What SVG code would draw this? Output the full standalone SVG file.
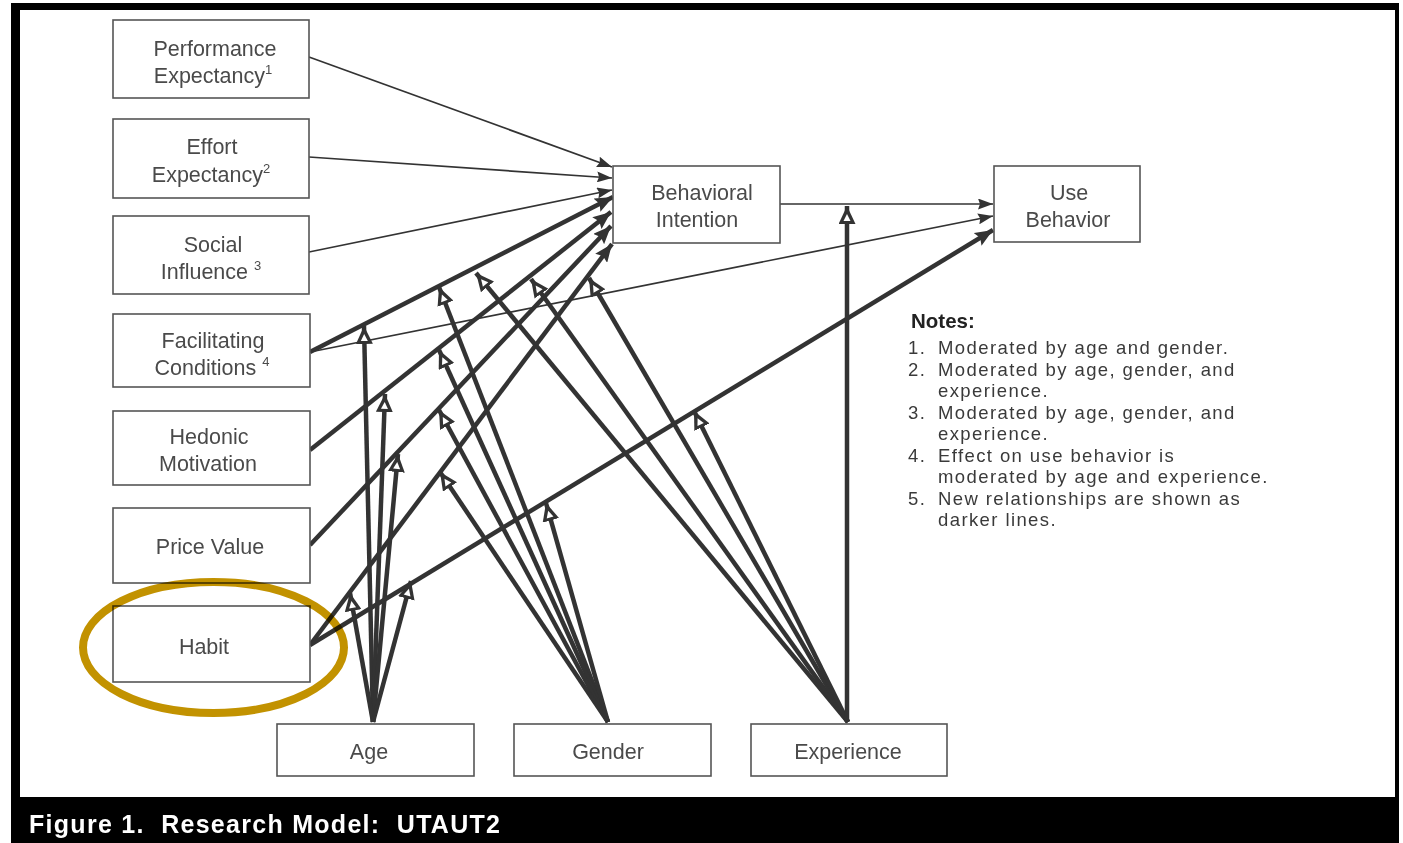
<svg xmlns="http://www.w3.org/2000/svg" width="1403" height="843" viewBox="0 0 1403 843">
<defs>
<style>
.box{fill:#fff;stroke:#555;stroke-width:1.6}
.lbl{font-family:"Liberation Sans",Arial,sans-serif;font-size:21.5px;fill:#4a4a4a;text-anchor:middle}
.thin{stroke:#333;stroke-width:1.7;fill:none}
.thick{stroke:#333;stroke-width:4.5;fill:none}
.pth{marker-end:url(#aThin)}
.ptk{marker-end:url(#aThick)}
.mod{stroke:#333;stroke-width:4.5;fill:none;marker-end:url(#aMod)}
.note{font-family:"Liberation Sans",Arial,sans-serif;font-size:18.5px;fill:#3a3a3a;letter-spacing:1.4px}
</style>
<marker id="aThin" markerUnits="userSpaceOnUse" viewBox="0 0 15 11" refX="15" refY="5.5" markerWidth="15" markerHeight="11" orient="auto"><path d="M0,0 L15,5.5 L0,11 L2,5.5 z" fill="#333"/></marker>
<marker id="aThick" markerUnits="userSpaceOnUse" viewBox="0 0 18 15" refX="18" refY="7.5" markerWidth="18" markerHeight="15" orient="auto"><path d="M0,0 L18,7.5 L0,15 L3,7.5 z" fill="#333"/></marker>
<marker id="aMod" markerUnits="userSpaceOnUse" viewBox="0 0 18 17" refX="18" refY="8.5" markerWidth="18" markerHeight="17" orient="auto"><path d="M0,0 L18,8.5 L0,17 z" fill="#333"/><path d="M3,5 L10,8.5 L3,12 z" fill="#fff"/></marker>
</defs>

<rect x="11" y="3" width="1388" height="840" fill="#000"/>
<rect x="20" y="10" width="1375" height="787" fill="#fff"/>
<text x="29" y="833" xml:space="preserve" font-family="Liberation Sans, Arial, sans-serif" font-size="25" font-weight="bold" fill="#fff" textLength="471" lengthAdjust="spacing">Figure 1.  Research Model:  UTAUT2</text>

<g id="connectors">
<path class="thin pth" d="M309,57 L612,167"/>
<path class="thin pth" d="M309,157 L612,178"/>
<path class="thin pth" d="M309,252 L612,190"/>
<path class="thick ptk" d="M310,352 L613,197"/>
<path class="thick ptk" d="M310,450 L611,212"/>
<path class="thick ptk" d="M310,545 L611,226"/>
<path class="thick ptk" d="M310,645 L612,244"/>
<path class="thin pth" d="M780,204 L993,204"/>
<path class="thin pth" d="M310,352 L993,216"/>
<path class="thick ptk" d="M310,645 L993,230"/>
<path class="mod" d="M373,722 L364,326"/>
<path class="mod" d="M373,722 L385,394"/>
<path class="mod" d="M373,722 L398,454"/>
<path class="mod" d="M373,722 L350,593"/>
<path class="mod" d="M373,722 L411,581"/>
<path class="mod" d="M608,722 L439,287"/>
<path class="mod" d="M608,722 L439,350"/>
<path class="mod" d="M608,722 L439,410"/>
<path class="mod" d="M608,722 L440,472"/>
<path class="mod" d="M608,722 L546,503"/>
<path class="mod" d="M848,722 L476,273"/>
<path class="mod" d="M848,722 L531,279"/>
<path class="mod" d="M848,722 L589,278"/>
<path class="mod" d="M848,722 L694,411"/>
<path class="mod" d="M847,722 L847,206"/>
</g>

<g id="pe"><rect class="box" x="113" y="20" width="196" height="78"/><text class="lbl" x="215" y="56">Performance</text><text class="lbl" x="213" y="83">Expectancy<tspan font-size="13" dy="-9">1</tspan></text></g>
<g id="ee"><rect class="box" x="113" y="119" width="196" height="79"/><text class="lbl" x="212" y="154">Effort</text><text class="lbl" x="211" y="182">Expectancy<tspan font-size="13" dy="-9">2</tspan></text></g>
<g id="si"><rect class="box" x="113" y="216" width="196" height="78"/><text class="lbl" x="213" y="252">Social</text><text class="lbl" x="211" y="279">Influence <tspan font-size="13" dy="-9">3</tspan></text></g>
<g id="fc"><rect class="box" x="113" y="314" width="197" height="73"/><text class="lbl" x="213" y="348">Facilitating</text><text class="lbl" x="212" y="375">Conditions <tspan font-size="13" dy="-9">4</tspan></text></g>
<g id="hm"><rect class="box" x="113" y="411" width="197" height="74"/><text class="lbl" x="209" y="444">Hedonic</text><text class="lbl" x="208" y="471">Motivation</text></g>
<g id="pv"><rect class="box" x="113" y="508" width="197" height="75"/><text class="lbl" x="210" y="554">Price Value</text></g>
<g id="habit"><rect class="box" x="113" y="606" width="197" height="76"/><text class="lbl" x="204" y="654">Habit</text></g>
<g id="bi"><rect class="box" x="613" y="166" width="167" height="77"/><text class="lbl" x="702" y="200">Behavioral</text><text class="lbl" x="697" y="227">Intention</text></g>
<g id="ub"><rect class="box" x="994" y="166" width="146" height="76"/><text class="lbl" x="1069" y="200">Use</text><text class="lbl" x="1068" y="227">Behavior</text></g>
<g id="age"><rect class="box" x="277" y="724" width="197" height="52"/><text class="lbl" x="369" y="759">Age</text></g>
<g id="gender"><rect class="box" x="514" y="724" width="197" height="52"/><text class="lbl" x="608" y="759">Gender</text></g>
<g id="experience"><rect class="box" x="751" y="724" width="196" height="52"/><text class="lbl" x="848" y="759">Experience</text></g>

<ellipse cx="213.5" cy="647.5" rx="130.5" ry="65.5" fill="none" stroke="#C29200" stroke-width="8" style="mix-blend-mode:multiply"/>

<g id="notes">
<text x="911" y="328" font-family="Liberation Sans, Arial, sans-serif" font-size="20.5" font-weight="bold" fill="#222">Notes:</text>
<text class="note" x="908" y="354">1.</text><text class="note" x="938" y="354">Moderated by age and gender.</text>
<text class="note" x="908" y="375.5">2.</text><text class="note" x="938" y="375.5">Moderated by age, gender, and</text>
<text class="note" x="938" y="397">experience.</text>
<text class="note" x="908" y="418.5">3.</text><text class="note" x="938" y="418.5">Moderated by age, gender, and</text>
<text class="note" x="938" y="440">experience.</text>
<text class="note" x="908" y="461.5">4.</text><text class="note" x="938" y="461.5">Effect on use behavior is</text>
<text class="note" x="938" y="483">moderated by age and experience.</text>
<text class="note" x="908" y="504.5">5.</text><text class="note" x="938" y="504.5">New relationships are shown as</text>
<text class="note" x="938" y="526">darker lines.</text>
</g>
</svg>
